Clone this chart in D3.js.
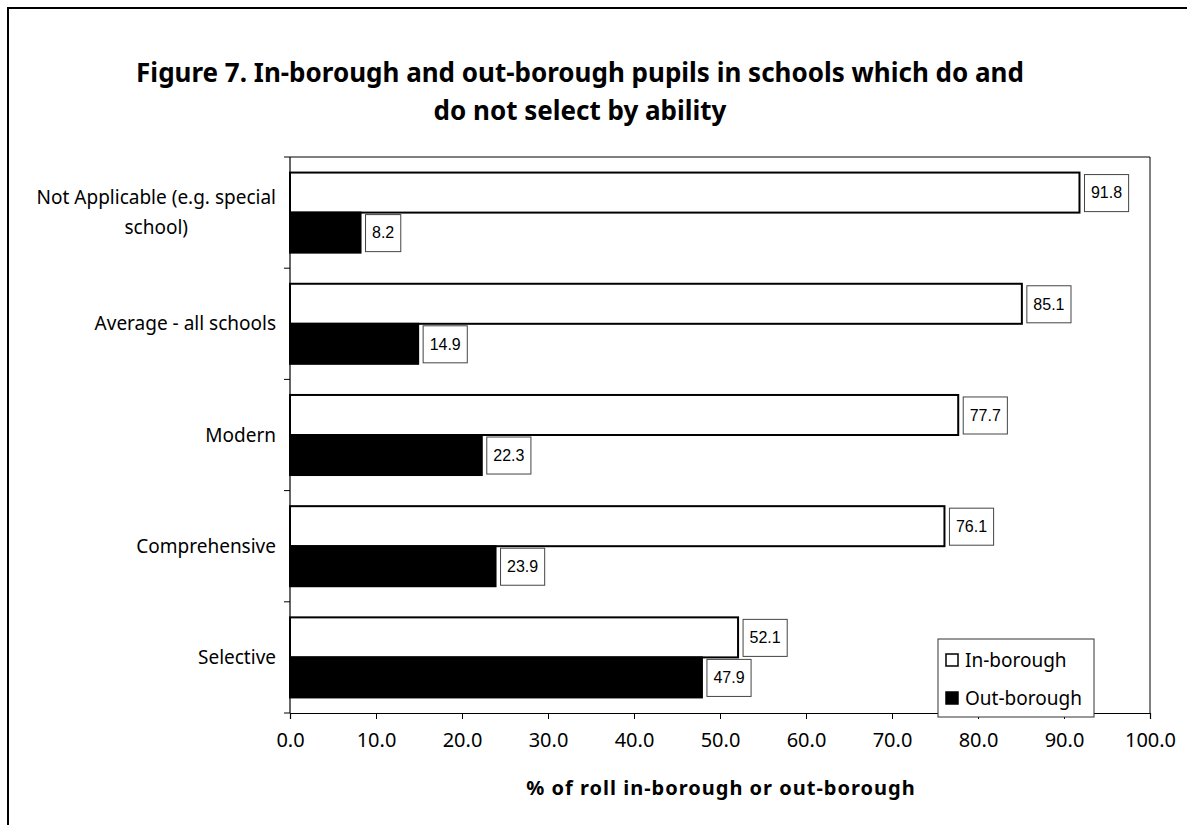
<!DOCTYPE html>
<html>
<head>
<meta charset="utf-8">
<script src="https://cdn.jsdelivr.net/npm/d3@7"></script>
<style>
  body { margin: 0; background: #fff; }
  svg { display: block; }
</style>
</head>
<body>
<svg id="chart" width="1187" height="825"></svg>
<script>
const categories = [
  ['Not Applicable (e.g. special', 'school)'],
  ['Average - all schools'],
  ['Modern'],
  ['Comprehensive'],
  ['Selective']
];
const seriesNames = ['In-borough', 'Out-borough'];
const inBorough = [91.8, 85.1, 77.7, 76.1, 52.1];
const outBorough = [8.2, 14.9, 22.3, 23.9, 47.9];
const xTicks = [0, 10, 20, 30, 40, 50, 60, 70, 80, 90, 100];

const svg = d3.select('#chart');
const plot = { left: 290, right: 1150, top: 157, bottom: 713 };
const uiFont = '"Noto Sans", "Open Sans", sans-serif';

// outer frame
svg.append('rect')
  .attr('x', 8).attr('y', 8)
  .attr('width', 1200).attr('height', 900)
  .attr('fill', 'none').attr('stroke', '#000').attr('stroke-width', 2);

// title
const title = svg.append('text')
  .attr('text-anchor', 'middle')
  .attr('font-family', uiFont)
  .attr('font-weight', 'bold')
  .attr('font-size', 26);
title.append('tspan').attr('x', 580).attr('y', 82)
  .text('Figure 7. In-borough and out-borough pupils in schools which do and');
title.append('tspan').attr('x', 580).attr('y', 120)
  .text('do not select by ability');

const x = d3.scaleLinear().domain([0, 100]).range([plot.left, plot.right]);
const keys = categories.map((c, i) => i);
const y = d3.scaleBand().domain(keys).range([plot.top, plot.bottom])
  .paddingInner(0.28).paddingOuter(0.14);
const ySub = d3.scaleBand().domain(seriesNames).range([0, y.bandwidth()]);

const rows = keys.map(i => [
  { key: i, series: seriesNames[0], value: inBorough[i] },
  { key: i, series: seriesNames[1], value: outBorough[i] }
]).flat();

// plot frame (top and right)
svg.append('path')
  .attr('d', `M${plot.left},${plot.top}H${plot.right}V${plot.bottom}`)
  .attr('fill', 'none').attr('stroke', '#000').attr('stroke-width', 1);

// x axis
const xAxis = svg.append('g')
  .attr('transform', `translate(0,${plot.bottom})`)
  .call(d3.axisBottom(x).tickValues(xTicks).tickFormat(d3.format('.1f')).tickSizeOuter(0).tickSize(6));
xAxis.select('.domain').attr('stroke-width', 1.2);
xAxis.selectAll('text')
  .attr('font-family', uiFont).attr('font-size', 20).attr('fill', '#000').attr('dy', '1.25em');

// y axis: ticks at band boundaries
const step = (plot.bottom - plot.top) / keys.length;
const bounds = d3.range(keys.length + 1).map(i => plot.top + i * step);
svg.append('line')
  .attr('x1', plot.left).attr('x2', plot.left)
  .attr('y1', plot.top).attr('y2', plot.bottom)
  .attr('stroke', '#000').attr('stroke-width', 1.2);
svg.selectAll('line.ytick').data(bounds).join('line')
  .attr('class', 'ytick')
  .attr('x1', plot.left - 6).attr('x2', plot.left)
  .attr('y1', d => d).attr('y2', d => d)
  .attr('stroke', '#000');

// category labels
const catLabels = svg.selectAll('text.cat').data(keys).join('text')
  .attr('class', 'cat')
  .attr('font-family', uiFont).attr('font-size', 19)
  .attr('text-anchor', 'middle');
catLabels.each(function(i) {
  const lines = categories[i];
  const node = d3.select(this);
  const cy = y(i) + y.bandwidth() / 2;
  lines.forEach((line, j) => {
    node.append('tspan')
      .attr('x', 0)
      .attr('y', cy + (j - (lines.length - 1) / 2) * 30)
      .attr('dy', '0.35em')
      .text(line);
  });
  // right-align the block, centre its lines
  const w = d3.max(node.selectAll('tspan').nodes(), n => n.getComputedTextLength());
  node.selectAll('tspan').attr('x', 276 - w / 2);
});

// bars
svg.selectAll('rect.bar').data(rows).join('rect')
  .attr('class', 'bar')
  .attr('x', x(0))
  .attr('y', d => y(d.key) + ySub(d.series))
  .attr('width', d => x(d.value) - x(0))
  .attr('height', ySub.bandwidth())
  .attr('fill', d => d.series === seriesNames[0] ? '#fff' : '#000')
  .attr('stroke', '#000')
  .attr('stroke-width', 2);

// value labels in boxes
const labels = svg.selectAll('g.vlabel').data(rows).join('g').attr('class', 'vlabel');
labels.each(function(d) {
  const g = d3.select(this);
  const by = y(d.key) + ySub(d.series);
  const bx = x(d.value) + 5;
  const t = g.append('text')
    .attr('font-family', '"Liberation Sans", Arial, sans-serif')
    .attr('font-size', 16)
    .attr('y', by + ySub.bandwidth() / 2)
    .attr('dy', '0.36em')
    .text(d.value.toFixed(1));
  const w = t.node().getComputedTextLength();
  g.insert('rect', 'text')
    .attr('x', bx).attr('y', by + 2)
    .attr('width', w + 13).attr('height', ySub.bandwidth() - 3)
    .attr('fill', '#fff').attr('stroke', '#444').attr('stroke-width', 1);
  t.attr('x', bx + 6.5);
});

// axis title
svg.append('text')
  .attr('x', 721).attr('y', 795)
  .attr('text-anchor', 'middle')
  .attr('font-family', uiFont).attr('font-weight', 'bold').attr('font-size', 20)
  .attr('letter-spacing', 1)
  .text('% of roll in-borough or out-borough');

// legend
const legend = svg.append('g').attr('transform', 'translate(938,639)');
legend.append('rect')
  .attr('width', 156).attr('height', 78)
  .attr('fill', '#fff').attr('stroke', '#333').attr('stroke-width', 1);
seriesNames.forEach((name, i) => {
  const ly = 21 + i * 38;
  legend.append('rect')
    .attr('x', 8).attr('y', ly - 6).attr('width', 12).attr('height', 12)
    .attr('fill', i === 0 ? '#fff' : '#000').attr('stroke', '#000').attr('stroke-width', 1.5);
  legend.append('text')
    .attr('x', 27).attr('y', ly).attr('dy', '0.36em')
    .attr('font-family', uiFont).attr('font-size', 19)
    .text(name);
});
</script>
</body>
</html>
